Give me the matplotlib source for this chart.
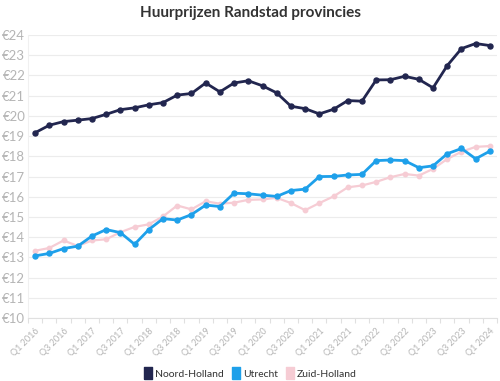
import numpy as np
import matplotlib.pyplot as plt
from matplotlib.lines import Line2D

plt.rcParams['font.family'] = ['Lato', 'DejaVu Sans']

# DATA

quarters = [f"Q{q} {y}" for y in range(2016, 2025) for q in (1, 2, 3, 4)][:33]

noord_holland = [19.17, 19.54, 19.72, 19.79, 19.87, 20.08, 20.31, 20.40, 20.55, 20.66,
                 21.03, 21.11, 21.63, 21.19, 21.63, 21.74, 21.49, 21.14, 20.48, 20.36,
                 20.10, 20.33, 20.76, 20.73, 21.78, 21.79, 21.96, 21.81, 21.39, 22.49,
                 23.33, 23.58, 23.48]

utrecht = [13.08, 13.20, 13.44, 13.56, 14.06, 14.38, 14.23, 13.65, 14.38, 14.92,
           14.85, 15.12, 15.59, 15.52, 16.18, 16.15, 16.08, 16.02, 16.31, 16.38,
           17.00, 17.01, 17.08, 17.11, 17.79, 17.82, 17.79, 17.44, 17.53, 18.13,
           18.39, 17.88, 18.26]

zuid_holland = [13.33, 13.47, 13.84, 13.57, 13.84, 13.90, 14.25, 14.51, 14.64, 15.03,
                15.57, 15.38, 15.78, 15.66, 15.71, 15.85, 15.87, 15.95, 15.69, 15.34,
                15.69, 16.02, 16.47, 16.56, 16.74, 16.97, 17.13, 17.05, 17.38, 17.87,
                18.23, 18.47, 18.51]

series = [
    ("Noord-Holland", noord_holland, "#22264f", 2.0, 3.6),
    ("Utrecht", utrecht, "#1ea0ea", 2.0, 3.6),
    ("Zuid-Holland", zuid_holland, "#f6ccd4", 1.6, 3.2),
]

x = np.arange(len(quarters))

fig = plt.figure(figsize=(5, 3.81), dpi=100)
ax = fig.add_axes([0.056, 0.165, 0.938, 0.743])

for name, vals, color, lw, ms in reversed(series):
    ax.plot(x, vals, color=color, lw=lw, marker='o', ms=ms, label=name,
            solid_joinstyle='round', zorder=3)

# AXES

ax.set_xlim(-0.5, len(quarters) - 0.5)
ax.set_ylim(10, 24)
ax.set_yticks(range(10, 25))
ax.set_yticklabels([f"€{v}" for v in range(10, 25)], color="#b5b5b5", fontsize=9.5)
ax.grid(axis='y', color="#ececec", lw=0.8)
ax.set_axisbelow(True)

ax.set_xticks(x[::2])
ax.set_xticklabels(quarters[::2], rotation=45, ha='right', va='top',
                   rotation_mode='anchor', fontsize=6.5, color="#b5b5b5")
ax.set_xticks(np.arange(-0.5, len(quarters), 1), minor=True)
ax.tick_params(axis='x', which='major', length=0, pad=6)
ax.tick_params(axis='x', which='minor', length=3.5, color="#e0e0e0", width=0.8)
ax.tick_params(axis='y', length=0, pad=2)

for s in ['top', 'right']:
    ax.spines[s].set_visible(False)
ax.spines['left'].set_color("#f0f0f0")
ax.spines['bottom'].set_color("#e0e0e0")
ax.spines['bottom'].set_linewidth(0.8)

fig.suptitle("Huurprijzen Randstad provincies", x=0.5, y=0.985,
             fontsize=11, fontweight='bold', color="#333333")

# LEGEND

box = [(-0.35, -0.5), (0.35, -0.5), (0.35, 0.5), (-0.35, 0.5), (-0.35, -0.5)]
handles = [Line2D([], [], marker=box, ls='', ms=8, color=c) for _, _, c, _, _ in series]
fig.legend(handles, [s[0] for s in series], loc='center',
           bbox_to_anchor=(0.5, 1 - 374 / 381), ncol=3, frameon=False, fontsize=7.5,
           handletextpad=0.25, columnspacing=0.7, handlelength=0.9,
           labelcolor="#333333")

fig.savefig("out.png", dpi=100)
